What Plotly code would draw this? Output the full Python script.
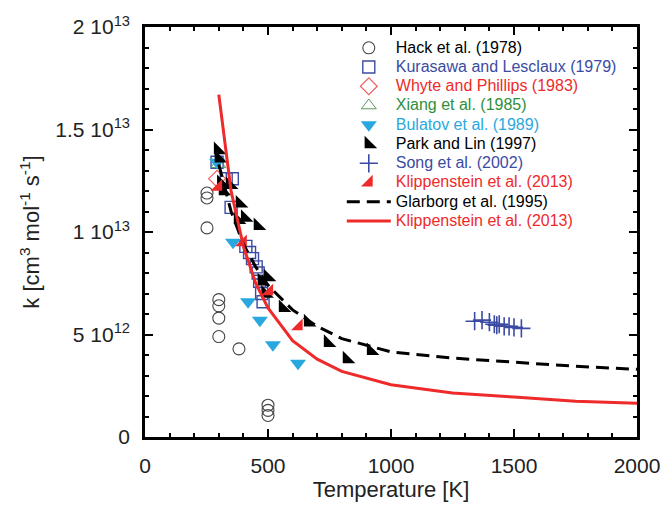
import plotly.graph_objects as go

# Experimental rate constants (T in K, k in units of 1e12 cm3 mol-1 s-1)
hack_T = [252, 252, 252, 300, 300, 300, 300, 382, 500, 500, 500]
hack_k = [11.9, 11.66, 10.2, 6.7, 6.4, 5.8, 4.9, 4.3, 1.55, 1.3, 1.05]

kura_T = [293, 330, 355, 350, 410, 425, 437, 452, 460, 466, 474, 480]
kura_k = [13.4, 12.6, 12.6, 11.2, 9.3, 9.0, 8.7, 8.3, 8.0, 7.6, 7.0, 6.6]

whyte_T = [293]
whyte_k = [12.6]

xiang_T = [298]
xiang_k = [13.3]

bulatov_T = [293, 358, 419, 467, 520, 622]
bulatov_k = [13.4, 9.5, 6.6, 5.7, 4.5, 3.6]

park_T = [297, 300, 310, 317, 346, 386, 378, 407, 459, 475, 490, 500, 561, 663, 744, 821, 919]
park_k = [14.0, 13.6, 12.4, 12.0, 12.3, 11.4, 10.6, 10.7, 10.3, 7.6, 7.0, 7.8, 6.3, 5.6, 4.6, 3.8, 4.2]

song_T = [1340, 1370, 1400, 1420, 1430, 1440, 1460, 1480, 1500, 1530]
song_k = [5.65, 5.7, 5.6, 5.5, 5.45, 5.5, 5.4, 5.4, 5.35, 5.3]

klip_pts_T = [298, 398, 505, 625]
klip_pts_k = [12.2, 9.5, 7.1, 5.4]

# Model curves
glar_T = [300, 350, 400, 450, 500, 600, 700, 800, 1000, 1250, 1500, 1750, 2000]
glar_k = [13.3, 11.0, 9.4, 8.3, 7.4, 6.2, 5.4, 4.8, 4.15, 3.85, 3.65, 3.45, 3.3]

klip_T = [300, 350, 400, 450, 500, 600, 700, 800, 1000, 1250, 1500, 1750, 2000]
klip_k = [16.7, 12.0, 9.3, 7.5, 6.3, 4.7, 3.8, 3.2, 2.55, 2.15, 1.95, 1.75, 1.65]

SCALE = 1e12

def scaled(vals):
    return [v * SCALE for v in vals]

def colored(text, color):
    return f"<span style='color:{color};font-size:16px'>{text}</span>"

BLUE = "#3b4ba3"
RED = "#ee2a2a"
GREEN = "#2f8f3a"
CYAN = "#29a8e0"
FONT = "Liberation Sans, Arial"

fig = go.Figure()

fig.add_trace(go.Scatter(
    x=hack_T, y=scaled(hack_k), mode="markers",
    name=colored("Hack et al. (1978)", "black"),
    marker=dict(symbol="circle-open", size=12, color="#444444", line=dict(width=1.1)),
))
fig.add_trace(go.Scatter(
    x=kura_T, y=scaled(kura_k), mode="markers",
    name=colored("Kurasawa and Lesclaux (1979)", BLUE),
    marker=dict(symbol="square-open", size=12, color=BLUE, line=dict(width=1.4)),
))
fig.add_trace(go.Scatter(
    x=whyte_T, y=scaled(whyte_k), mode="markers",
    name=colored("Whyte and Phillips (1983)", RED),
    marker=dict(symbol="diamond-open", size=13, color="#f06060", line=dict(width=1.2)),
))
fig.add_trace(go.Scatter(
    x=xiang_T, y=scaled(xiang_k), mode="markers",
    name=colored("Xiang et al. (1985)", GREEN),
    marker=dict(symbol="triangle-up-open", size=13, color="#5a9a60", line=dict(width=1.0)),
))
fig.add_trace(go.Scatter(
    x=bulatov_T, y=scaled(bulatov_k), mode="markers",
    name=colored("Bulatov et al. (1989)", CYAN),
    marker=dict(symbol="triangle-down", size=14, color=CYAN),
))
fig.add_trace(go.Scatter(
    x=park_T, y=scaled(park_k), mode="markers",
    name=colored("Park and Lin (1997)", "black"),
    marker=dict(symbol="triangle-sw", size=14, color="black"),
))
fig.add_trace(go.Scatter(
    x=song_T, y=scaled(song_k), mode="markers",
    name=colored("Song et al. (2002)", BLUE),
    marker=dict(symbol="cross-thin-open", size=13, color=BLUE, line=dict(width=1.6, color=BLUE)),
))
fig.add_trace(go.Scatter(
    x=klip_pts_T, y=scaled(klip_pts_k), mode="markers",
    name=colored("Klippenstein et al. (2013)", RED),
    marker=dict(symbol="triangle-se", size=13, color=RED),
))
fig.add_trace(go.Scatter(
    x=glar_T, y=scaled(glar_k), mode="lines",
    name=colored("Glarborg et al. (1995)", "black"),
    line=dict(color="black", width=3, dash="13px,7px"),
))
fig.add_trace(go.Scatter(
    x=klip_T, y=scaled(klip_k), mode="lines",
    name=colored("Klippenstein et al. (2013)", RED),
    line=dict(color=RED, width=3),
))

axis_common = dict(
    showline=True, linecolor="black", linewidth=2.5, mirror="allticks",
    ticks="inside", ticklen=8, tickwidth=2, tickcolor="black",
    showgrid=False, zeroline=False,
    tickfont=dict(family=FONT, size=21, color="#222"),
    title_font=dict(family=FONT, size=22, color="#222"),
)

fig.update_xaxes(
    range=[0, 2000], tickvals=[0, 500, 1000, 1500, 2000],
    minor=dict(ticks="inside", dtick=100, ticklen=4, tickwidth=2, tickcolor="black"),
    title_text="Temperature [K]", title_standoff=6,
    ticklabelstandoff=8,
    **axis_common,
)
fig.update_yaxes(
    range=[0, 2e13],
    tickvals=[0, 5e12, 1e13, 1.5e13, 2e13],
    ticktext=["0", "5 10<sup>12</sup>", "1 10<sup>13</sup>", "1.5 10<sup>13</sup>", "2 10<sup>13</sup>"],
    minor=dict(ticks="inside", dtick=1e12, ticklen=4, tickwidth=2, tickcolor="black"),
    title_text="k [cm<sup>3</sup> mol<sup>-1</sup> s<sup>-1</sup>]", title_standoff=10,
    ticklabelstandoff=8,
    **axis_common,
)

fig.update_layout(
    width=672, height=511,
    margin=dict(l=145, r=35, t=27, b=74),
    paper_bgcolor="white", plot_bgcolor="white",
    showlegend=True,
    legend=dict(
        x=0.4, y=0.985, xanchor="left", yanchor="top",
        bgcolor="rgba(0,0,0,0)", borderwidth=0,
        font=dict(family=FONT, size=12.5),
        tracegroupgap=0, itemwidth=44,
    ),
)

fig.write_html("out.html")
